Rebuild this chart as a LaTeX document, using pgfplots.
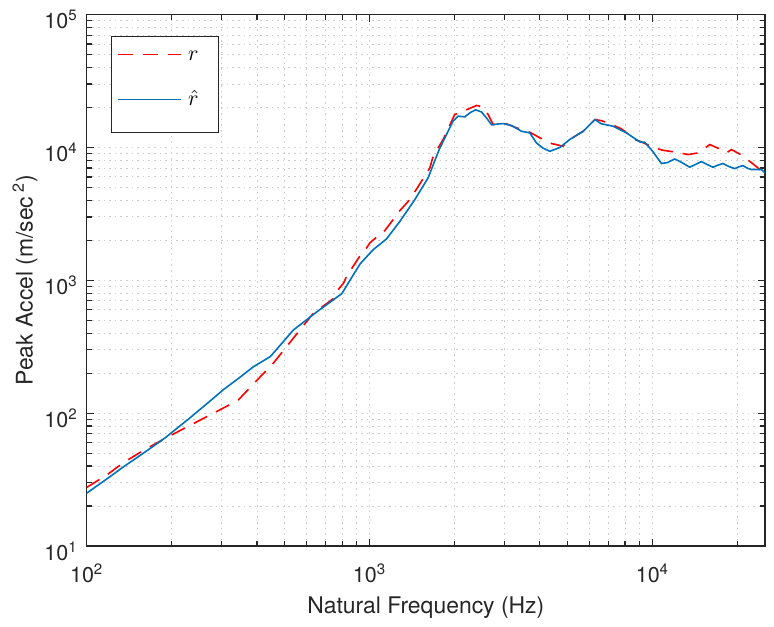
\documentclass[border=0pt]{standalone}
\usepackage{fontspec}
\setmainfont{TeX Gyre Heros}
\usepackage{pgfplots}
\pgfplotsset{compat=1.18}
\definecolor{mblue}{rgb}{0,0.447,0.741}
\definecolor{axgray}{rgb}{0.15,0.15,0.15}
\begin{document}
\begin{tikzpicture}
\begin{axis}[
  name=ax,
  xmode=log, ymode=log,
  scale only axis,
  width=339.15bp, height=265.7bp,
  xmin=100, xmax=25000, ymin=10, ymax=100000,
  xtick={100,1000,10000},
  xticklabels={10\textsuperscript{2},10\textsuperscript{3},10\textsuperscript{4}},
  ytick={10,100,1000,10000,100000},
  yticklabels={10\textsuperscript{1},10\textsuperscript{2},10\textsuperscript{3},10\textsuperscript{4},10\textsuperscript{5}},
  minor xtick={200,300,400,500,600,700,800,900,2000,3000,4000,5000,6000,7000,8000,9000,20000},
  minor ytick={20,30,40,50,60,70,80,90,200,300,400,500,600,700,800,900,2000,3000,4000,5000,6000,7000,8000,9000,20000,30000,40000,50000,60000,70000,80000,90000},
  grid=both,
  major grid style={dash pattern=on 0.8bp off 2bp, color=black!17, line width=0.5bp},
  minor grid style={dash pattern=on 0.8bp off 2bp, color=black!20, line width=0.5bp},
  axis line style={axgray, line width=0.6bp},
  tick style={axgray, line width=0.6bp},
  major tick length=3.5bp, minor tick length=2.5bp,
  tick align=inside,
  ticklabel style={font=\fontsize{10.8}{12}\selectfont, text=axgray},
  xticklabel style={anchor=center, yshift=-13.5bp},
  yticklabel style={xshift=-1bp, yshift=-2.5bp},
  xlabel={Natural Frequency (Hz)},
  ylabel={Peak Accel (m/sec\,\textsuperscript{2})},
  label style={font=\fontsize{11.5}{13}\selectfont, text=axgray},
  xlabel style={at={(axis description cs:0.5,0)}, anchor=center, yshift=-31bp},
  ylabel style={at={([xshift=-30.85bp]axis description cs:0,0.5)}, anchor=center},
  legend style={at={(axis description cs:0.0358,0.9597)}, anchor=north west,
    draw=axgray, line width=0.6bp, inner xsep=3bp, inner ysep=0bp,
    row sep=-2.85bp, column sep=3bp, font=\fontsize{11}{13}\selectfont,
    cells={anchor=center},
    nodes={inner sep=0pt, text width=12.35bp, align=left}},
  legend image code/.code={\draw[#1] (0bp,0bp) -- (31.5bp,0bp);},
]
\addplot[red, line width=0.8bp, dash pattern=on 7.5bp off 5bp] coordinates {
(100,27.6) (119,34.8) (135,42.5) (160,53) (189,64.5) (250,88) (321,116) (344,126) (400,177)
(457,238) (540,371) (632,563) (700,661) (746,730) (774,849) (809,950) (829,1070)
(927,1538) (975,1750) (1002,1911) (1060,2118) (1132,2366) (1212,2864) (1280,3350)
(1387,4045) (1526,5560) (1633,7010) (1678,8590) (1820,11480) (2000,17700) (2150,18800)
(2388,20700) (2500,20300) (2625,17700) (2735,14860) (2900,15100) (3048,15060)
(3305,14060) (3684,13030) (3996,11830) (4400,10700) (4830,10210) (5102,11480)
(5690,13240) (6260,16230) (6600,15900) (7060,15130) (7770,13800) (8770,11330)
(9020,11150) (10050,10030) (10890,9520) (12150,9200) (13360,8840) (14500,9100)
(15950,10510) (17300,9750) (18250,9100) (19010,9640) (20340,8930) (22070,7870)
(23620,7010) (25000,6250)
};
\addlegendentry[text height=12.1bp, text depth=5.9bp]{$r$}
\addplot[mblue, line width=0.8bp] coordinates {
(100,25) (120,32.9) (135,39.5) (160,50.6) (189,65) (230,91) (270,121) (304,150)
(350,188) (389,224) (420,247) (446,267) (490,336) (538,423) (600,506) (651,579)
(720,677) (798,794) (850,990) (927,1334) (1030,1701) (1148,2049) (1280,2780)
(1445,4045) (1610,5900) (1762,9640) (1870,12500) (1972,15740) (2055,17200)
(2171,17000) (2270,18300) (2370,19200) (2487,18500) (2600,16500) (2699,14800)
(2830,15000) (2966,15130) (3175,14620) (3443,13240) (3684,12880) (3890,10820)
(4100,9900) (4338,9350) (4703,9990) (5102,11480) (5690,13240) (6260,16230)
(6600,15060) (7260,14450) (8090,12880) (9020,11010) (9390,10940) (10000,9400)
(10760,7570) (11300,7700) (11990,8200) (12700,7700) (13540,7100) (14200,7450)
(14890,7830) (15600,7450) (16370,7100) (17000,7350) (17750,7570) (18600,7200)
(19530,6930) (20200,7150) (20890,7300) (21600,7000) (22370,6820) (24270,6820)
(25000,6440)
};
\addlegendentry[text height=19.45bp, text depth=13.25bp]{$\hat{r}$}
\end{axis}
\pgfresetboundingbox
\path (ax.south west) +(-43.35bp,-40bp) (ax.north east) +(4.5bp,7.3bp);
\end{tikzpicture}
\end{document}
